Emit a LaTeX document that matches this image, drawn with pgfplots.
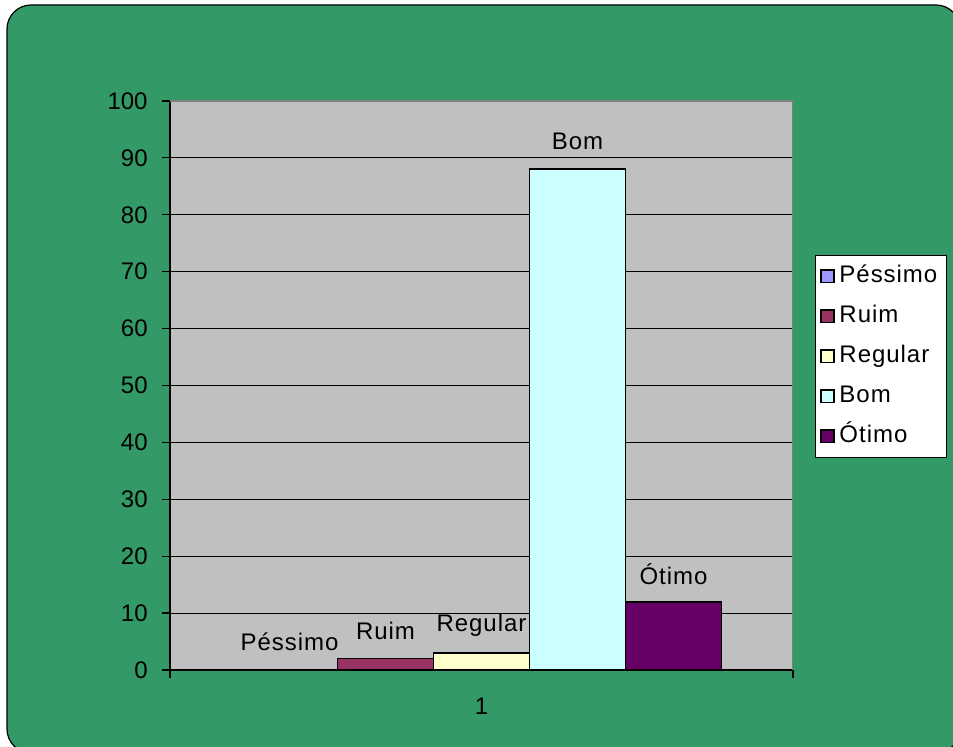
\documentclass[border=0pt]{standalone}
\usepackage{fontspec}
\setmainfont{Liberation Sans}
\newfontfamily\lsfont{Liberation Sans}[LetterSpace=4]
\usepackage{pgfplots}
\pgfplotsset{compat=1.18}
\definecolor{bggreen}{HTML}{339966}
\definecolor{plotgray}{HTML}{C0C0C0}
\definecolor{cPes}{HTML}{9999FF}
\definecolor{cRui}{HTML}{993366}
\definecolor{cReg}{HTML}{FFFFCC}
\definecolor{cBom}{HTML}{CCFFFF}
\definecolor{cOti}{HTML}{660066}
\pgfplotsset{sqlegend/.style={legend image code/.code={\draw[##1,draw=black,line width=0.8bp] (0bp,-3.2bp) rectangle (6.4bp,3.2bp);}}}
\begin{document}
\fontsize{12bp}{14bp}\selectfont
\begin{tikzpicture}
\useasboundingbox (0,0) rectangle (476.5bp,373.5bp);
\fill[white] (0,0) rectangle (476.5bp,373.5bp);
\clip (0,0) rectangle (476.5bp,373.5bp);
\draw[fill=bggreen,draw=black,line width=0.6bp,rounded corners=12bp] (3.5bp,371bp) rectangle (480bp,-3bp);
\begin{axis}[
  at={(85bp,38.5bp)}, anchor=south west,
  scale only axis, width=311.5bp, height=284.5bp,
  /pgf/number format/assume math mode=true,
  xmin=0.5, xmax=1.5, ymin=0, ymax=100,
  ytick={0,10,...,100},
  xtick={0.5,1.5}, xticklabels={,},
  extra x ticks={1}, extra x tick labels={1},
  extra x tick style={major tick length=0pt, xticklabel style={yshift=-10bp}},
  axis lines*=left,
  axis line style={black, line width=0.6bp},
  tick align=outside, major tick length=4bp,
  tick style={black, line width=0.6bp},
  ymajorgrids, major grid style={black, line width=0.5bp},
  axis background/.style={fill=plotgray},
  ybar=0pt, bar width=0.1541,
  nodes near coords,
  every node near coord/.append style={anchor=center, yshift=14bp, black, font=\lsfont},
  yticklabel style={xshift=-3bp},
  legend style={at={(1.0353,0.730)}, anchor=north west, draw=black, fill=white,
    line width=0.5bp, row sep=8bp, inner xsep=2.5bp, inner ysep=4.5bp,
    nodes={inner ysep=0pt, inner xsep=2.3bp, text height=9bp, text depth=3bp},
    font=\fontsize{12bp}{14bp}\lsfont},
  legend cell align=left,
]
\addplot[fill=cPes, draw=black, line width=0.8bp, sqlegend, nodes near coords={Péssimo}] coordinates {(1,0)};
\addplot[fill=cRui, draw=black, line width=0.8bp, sqlegend, nodes near coords={Ruim}] coordinates {(1,2)};
\addplot[fill=cReg, draw=black, line width=0.8bp, sqlegend, nodes near coords={Regular}] coordinates {(1,3)};
\addplot[fill=cBom, draw=black, line width=0.8bp, sqlegend, nodes near coords={Bom}] coordinates {(1,88)};
\addplot[fill=cOti, draw=black, line width=0.8bp, sqlegend, nodes near coords={Ótimo}] coordinates {(1,12)};
\legend{Péssimo,Ruim,Regular,Bom,Ótimo}
\draw[draw=gray, line width=1bp] (rel axis cs:0,1) -- (rel axis cs:1,1) -- (rel axis cs:1,0);
\end{axis}
\end{tikzpicture}
\end{document}
